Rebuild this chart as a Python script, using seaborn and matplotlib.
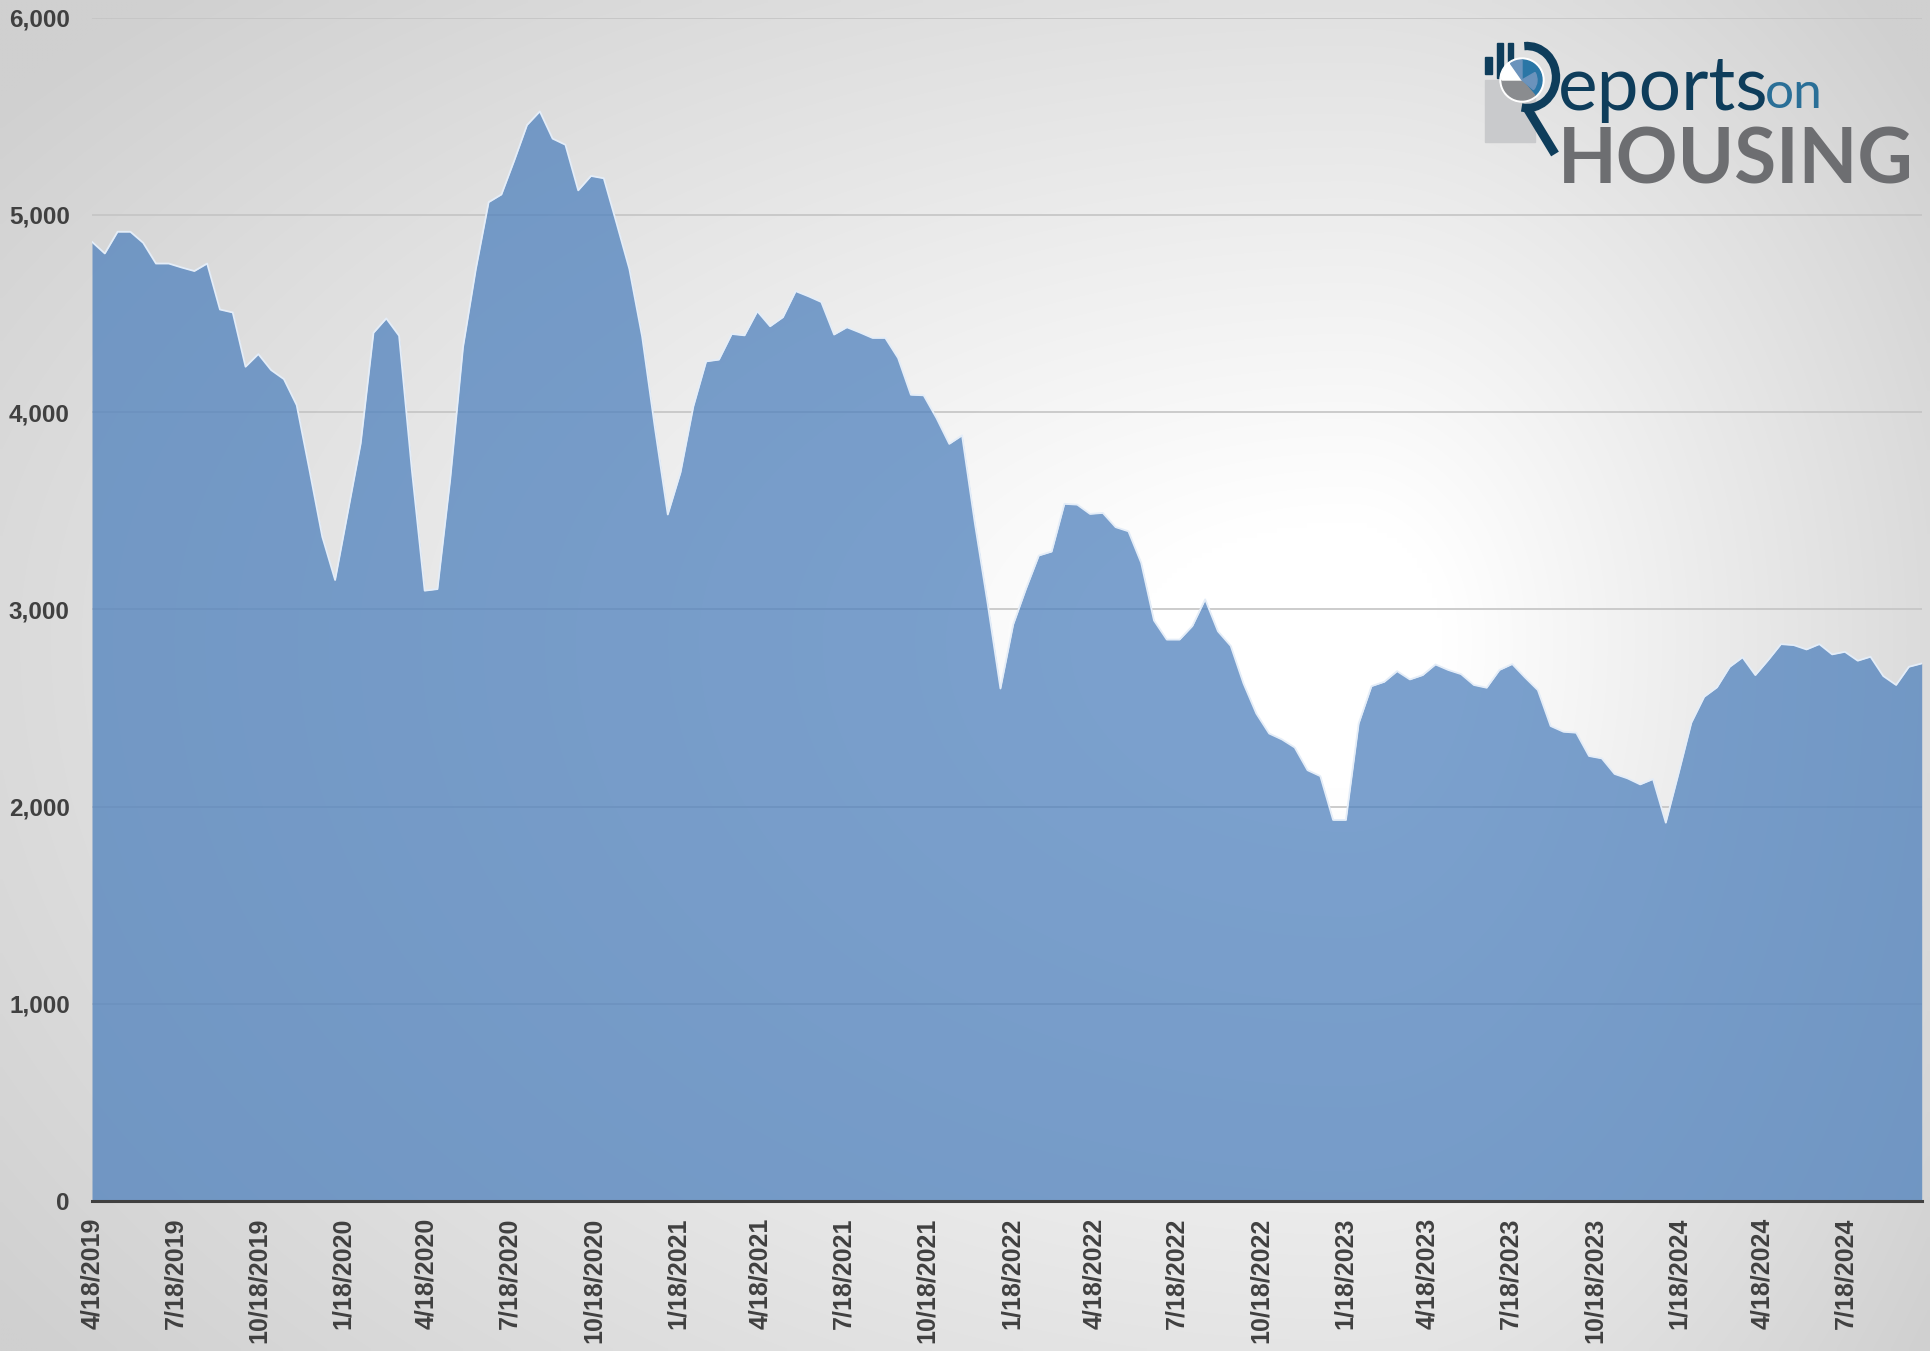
import numpy as np
import pandas as pd
import matplotlib
matplotlib.use("Agg")
import matplotlib.pyplot as plt
from matplotlib.patches import Rectangle, Wedge, Arc, Circle
import seaborn as sns

# ---------------- data ----------------
start_date = "2019-04-18"
period_days = 14
inventory = [
    4863, 4804, 4914, 4914, 4858, 4753, 4753, 4733, 4715, 4753, 4520, 4505, 4230, 4294,
    4213, 4167, 4035, 3706, 3368, 3149, 3495, 3841, 4402, 4475, 4387, 3706, 3095,
    3103, 3661, 4330, 4725, 5064, 5103, 5275, 5455, 5524, 5386, 5355, 5124, 5197, 5185,
    4957, 4725, 4382, 3918, 3481, 3695,
    4029, 4257, 4266, 4396, 4389, 4511, 4435, 4481, 4613, 4587, 4558, 4393, 4430, 4404,
    4376, 4376, 4274, 4088, 4085, 3970, 3839, 3882, 3437, 3030, 2599, 2924,
    3105, 3273, 3293, 3535, 3531, 3484, 3489, 3417, 3396, 3236, 2944, 2847, 2847, 2916,
    3051, 2889, 2815, 2624, 2472, 2371, 2341, 2300, 2185, 2155, 1933, 1933,
    2422, 2611, 2633, 2687, 2645, 2667, 2721, 2693, 2672, 2617, 2603, 2693, 2723, 2655,
    2591, 2409, 2380, 2375, 2257, 2245, 2166, 2144, 2113, 2140, 1919,
    2169, 2426, 2557, 2605, 2709, 2757, 2667, 2743, 2824, 2819, 2797, 2824, 2772, 2785,
    2740, 2760, 2662, 2617, 2709, 2726,
]
y_ticks = [0, 1000, 2000, 3000, 4000, 5000, 6000]
x_tick_month_start = "2019-04-01"
x_tick_month_end = "2024-07-01"
x_tick_day = 18

dates = pd.date_range(start_date, periods=len(inventory), freq=f"{period_days}D")
df = pd.DataFrame({"date": dates, "inventory": inventory})
x_ticks = pd.date_range(x_tick_month_start, x_tick_month_end, freq="3MS") + pd.Timedelta(days=x_tick_day - 1)
x_labels = [f"{d.month}/{d.day}/{d.year}" for d in x_ticks]

# ---------------- figure ----------------
sns.set_style("white")
plt.rcParams["font.family"] = ["Liberation Sans", "DejaVu Sans"]

W, H = 1930, 1351
fig = plt.figure(figsize=(W / 100, H / 100), dpi=100)

# background radial gradient
bg = fig.add_axes([0, 0, 1, 1], zorder=0)
gx, gy = np.meshgrid(np.linspace(0, W, 386), np.linspace(0, H, 270))
dx = gx - 1350
dy = gy - 640
dx = dx * np.where(dx < 0, 0.55, 1.25)
dy = dy * np.where(dy < 0, 1.0, 0.8)
d = np.sqrt(dx ** 2 + dy ** 2)
t = np.clip((d - 120) / 800, 0, 1)
val = (255 - 47 * t) / 255.0
bg.imshow(np.dstack([val, val, val]), extent=(0, W, H, 0), aspect="auto",
          interpolation="bilinear")
bg.set_xlim(0, W)
bg.set_ylim(H, 0)
bg.axis("off")

# main axes
left, right, bottom_px, top_px = 92, 1921.7, 1201.3, 17.5
ax = fig.add_axes([left / W, 1 - bottom_px / H, (right - left) / W, (bottom_px - top_px) / H],
                  zorder=1)
ax.patch.set_alpha(0)

ax.fill_between(df["date"], df["inventory"], 0, color="#4F81BD", alpha=0.75,
                linewidth=0, zorder=2)
sns.lineplot(data=df, x="date", y="inventory", ax=ax, color="#e4edf8", linewidth=1.3,
             zorder=3)

ax.set_xlim(dates[0], dates[-1])
ax.set_ylim(0, 6000)
ax.set_yticks(y_ticks)
ax.set_yticklabels([f"{v:,}" for v in y_ticks])
ax.set_xticks(x_ticks)
ax.set_xticklabels(x_labels, rotation=90, va="top", ha="center")
ax.set_xlabel("")
ax.set_ylabel("")

ax.grid(axis="y", color="#c4c4c4", linewidth=1.2, zorder=0.5)
ax.grid(axis="x", visible=False)
ax.set_axisbelow(True)
for s in ["left", "right", "top"]:
    ax.spines[s].set_visible(False)
ax.spines["bottom"].set_color("#404040")
ax.spines["bottom"].set_linewidth(2.2)
ax.spines["bottom"].set_zorder(4)

ax.tick_params(axis="x", direction="out", length=6, width=1.6, color="#404040",
               pad=6, labelsize=18, labelcolor="#404040")
ax.tick_params(axis="y", length=0, pad=16, labelsize=17.5, labelcolor="#404040")
for lab in ax.get_xticklabels() + ax.get_yticklabels():
    lab.set_fontweight("bold")

# ---------------- logo overlay ----------------
ov = fig.add_axes([0, 0, 1, 1], zorder=5)
ov.set_xlim(0, W)
ov.set_ylim(H, 0)
ov.axis("off")
ov.patch.set_alpha(0)

navy = "#0e3d5b"
ov.add_patch(Rectangle((1485, 80), 50, 62, color="#c9cacc", zorder=1))
ov.add_patch(Rectangle((1485, 57), 7, 17, color=navy, zorder=2))
ov.add_patch(Rectangle((1497, 43), 6, 35, color=navy, zorder=2))
ov.add_patch(Rectangle((1508, 43), 5, 27, color=navy, zorder=2))
cx, cy, r = 1522, 80, 20
ov.add_patch(Circle((cx, cy), r + 2, color="white", zorder=3))
ov.add_patch(Wedge((cx, cy), r, -90, 50, color="#2a76a6", zorder=4))
ov.add_patch(Wedge((cx, cy), r, 50, 180, color="#8a8c8f", zorder=4))
ov.add_patch(Wedge((cx, cy), r, 180, 235, color="white", zorder=4))
ov.add_patch(Wedge((cx, cy), r, 235, 270, color="#6b93bc", zorder=4))
ov.add_patch(Wedge((cx, cy), r * 0.75, -30, 40, color="#6b93bc", zorder=4))
ov.add_patch(Arc((1527, 77), 58, 62, theta1=-95, theta2=100, color=navy, lw=6, zorder=5))
ov.plot([1527, 1555], [108, 154], color=navy, lw=6.5, solid_capstyle="butt", zorder=5)

ov.text(1558, 110, "eports", fontsize=54, color=navy, family="Lato",
        ha="left", va="baseline", zorder=6)
ov.text(1765, 108, "on", fontsize=37, color="#2a6f97", family="Lato",
        fontweight="normal", ha="left", va="baseline", zorder=6)
ov.text(1558, 183, "HOUSING", fontsize=55, color="#6d6e71", family="Lato",
        fontweight="bold", ha="left", va="baseline", zorder=6)

fig.savefig("out.png", dpi=100)
